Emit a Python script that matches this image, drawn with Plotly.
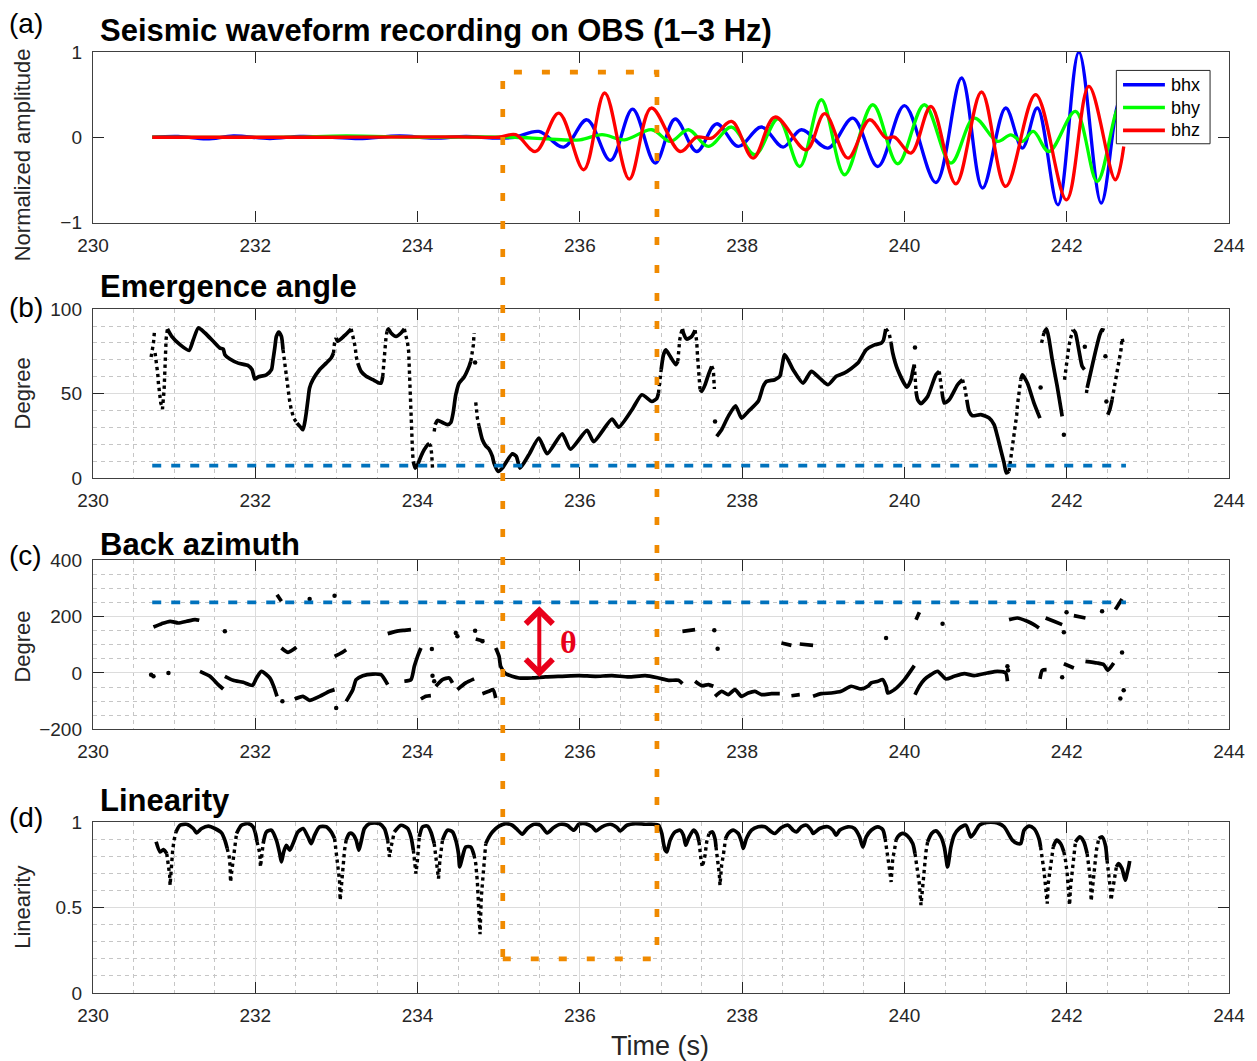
import plotly.graph_objects as go

# ---------------- data ----------------
# panel (a) waveforms: extrema (time s, normalized amplitude)
bhx_t = [230.73, 231.05, 231.40, 231.73, 232.18, 232.55, 232.95, 233.28, 233.78, 234.20, 234.60, 234.95,
         235.20, 235.495, 235.802, 236.088, 236.376, 236.650, 236.929, 237.174, 237.440, 237.686, 237.952,
         238.238, 238.505, 238.730, 239.058, 239.365, 239.672, 240.000, 240.388, 240.704, 240.962,
         241.248, 241.453, 241.638, 241.892, 242.150, 242.424, 242.612, 242.70]
bhx_v = [0.0, 0.01, -0.02, 0.015, -0.015, 0.01, 0.0, -0.015, 0.015, -0.01, 0.01, -0.01,
         0.0, 0.068, -0.115, 0.205, -0.272, 0.331, -0.303, 0.214, -0.167, 0.158, -0.108,
         0.120, -0.115, 0.088, -0.127, 0.225, -0.343, 0.370, -0.531, 0.695, -0.596,
         0.343, -0.127, 0.343, -0.792, 1.0, -0.772, 0.323, 0.6]

bhy_t = [230.73, 232.40, 233.12, 234.00, 234.80, 235.20, 235.60, 236.00, 236.273, 236.55, 236.887,
         237.113, 237.338, 237.584, 237.870, 238.157, 238.444, 238.710, 238.976, 239.263, 239.610,
         239.918, 240.246, 240.573, 240.860, 241.146, 241.310, 241.453, 241.588, 241.781, 242.108,
         242.375, 242.612, 242.70]
bhy_v = [0.0, 0.0, 0.015, 0.0, 0.005, 0.0, -0.02, -0.03, 0.03, -0.03, 0.088,
         -0.049, 0.088, -0.108, 0.120, -0.205, 0.217, -0.343, 0.440, -0.440, 0.381,
         -0.311, 0.381, -0.303, 0.225, -0.049, 0.029, -0.049, 0.068, -0.167, 0.303,
         -0.519, 0.303, 0.45]

bhz_t = [230.73, 233.00, 234.50, 235.00, 235.209, 235.455, 235.741, 236.048, 236.306, 236.609, 236.880,
         237.236, 237.440, 237.624, 237.870, 238.136, 238.403, 238.791, 239.017, 239.303, 239.570,
         239.774, 239.877, 240.081, 240.327, 240.634, 240.950, 241.248, 241.617, 241.998, 242.273,
         242.600, 242.703]
bhz_v = [0.0, 0.0, 0.005, 0.0, 0.03, -0.167, 0.284, -0.381, 0.519, -0.491, 0.343,
         -0.167, 0.002, -0.01, 0.185, -0.244, 0.237, -0.147, 0.276, -0.244, 0.205,
         -0.009, 0.002, -0.185, 0.361, -0.546, 0.531, -0.577, 0.499, -0.734, 0.596,
         -0.499, -0.108]

# panel (b) emergence angle (time s, degree)
ea_solid = [
    [(230.917, 88.3), (230.970, 83.9), (231.072, 79.0), (231.183, 75.6), (231.236, 81.9), (231.298, 88.9),
     (231.380, 85.9), (231.482, 81.0), (231.564, 77.0), (231.605, 76.4), (231.625, 73.1), (231.687, 70.5),
     (231.789, 68.1), (231.912, 66.6), (231.961, 64.2), (231.994, 58.7), (232.035, 59.9), (232.137, 61.2),
     (232.199, 64.2), (232.219, 70.1), (232.240, 77.0), (232.260, 83.9), (232.289, 86.5), (232.322, 83.9),
     (232.342, 76.0)],
    [(232.514, 32.6), (232.567, 29.7), (232.588, 28.7), (232.608, 32.6), (232.628, 38.6), (232.649, 46.4),
     (232.669, 53.4), (232.710, 58.3), (232.792, 64.2), (232.874, 68.1), (232.935, 71.1), (232.964, 74.1)],
    [(232.997, 83.0), (233.017, 81.0), (233.099, 84.3), (233.181, 88.3)],
    [(233.263, 68.1), (233.304, 63.2), (233.366, 60.3), (233.448, 58.3), (233.530, 56.3), (233.551, 56.3),
     (233.571, 60.3)],
    [(233.624, 86.9), (233.640, 88.3), (233.673, 85.9), (233.735, 83.9), (233.796, 85.9), (233.837, 88.3)],
    [(233.947, 10.0), (233.971, 6.0), (234.000, 8.0), (234.041, 12.9), (234.082, 16.9), (234.123, 19.8),
     (234.144, 20.4)],
    [(234.217, 31.7), (234.246, 34.2), (234.307, 33.0), (234.369, 31.7), (234.410, 33.0), (234.438, 38.6),
     (234.471, 49.4), (234.512, 56.3), (234.574, 59.9), (234.635, 66.2), (234.656, 69.1)],
    [(234.758, 30.7), (234.799, 22.8), (234.840, 19.2), (234.881, 17.2), (234.922, 12.9), (234.942, 9.0),
     (234.995, 4.0), (235.045, 6.0), (235.168, 14.5), (235.217, 12.9), (235.262, 6.0), (235.372, 13.9),
     (235.495, 23.8), (235.597, 14.5), (235.782, 26.3), (235.884, 17.2), (236.089, 28.3), (236.171, 21.7),
     (236.396, 35.0), (236.478, 30.2), (236.642, 40.5), (236.765, 49.4), (236.887, 45.4), (236.949, 47.3),
     (236.969, 50.4)],
    [(237.002, 64.2), (237.031, 73.1), (237.060, 76.0), (237.113, 72.1), (237.182, 67.2), (237.207, 69.1)],
    [(237.264, 88.3), (237.276, 85.9), (237.317, 82.3), (237.379, 83.9), (237.420, 87.5)],
    [(237.481, 52.4), (237.502, 51.4), (237.543, 55.3), (237.584, 61.2), (237.625, 66.2)],
    [(237.686, 24.8), (237.747, 28.7), (237.829, 36.6), (237.919, 42.9), (237.993, 35.6), (238.075, 39.5),
     (238.198, 45.5), (238.259, 54.3), (238.300, 57.3), (238.403, 58.3), (238.464, 60.3), (238.525, 73.1),
     (238.628, 64.2), (238.750, 56.3), (238.853, 63.2), (238.955, 59.2), (239.058, 55.3), (239.160, 60.3),
     (239.262, 62.3), (239.426, 68.1), (239.529, 76.0), (239.631, 78.9), (239.713, 79.9), (239.740, 81.5),
     (239.770, 88.3)],
    [(239.836, 80.0), (239.856, 74.1), (239.917, 64.2), (240.032, 53.9), (240.081, 58.3), (240.102, 63.2),
     (240.122, 67.2)],
    [(240.143, 51.4), (240.163, 46.4), (240.204, 44.1), (240.286, 48.4), (240.388, 61.2), (240.429, 63.2)],
    [(240.462, 51.4), (240.491, 44.5), (240.552, 46.4), (240.655, 55.3), (240.716, 58.3)],
    [(240.769, 46.4), (240.798, 39.5), (240.839, 37.0), (240.941, 37.6), (241.044, 35.6), (241.105, 31.7),
     (241.146, 24.8), (241.187, 16.9), (241.228, 9.0), (241.257, 3.1), (241.289, 4.1)],
    [(241.433, 58.3), (241.453, 61.2), (241.515, 56.3), (241.597, 44.5), (241.670, 35.6)],
    [(241.719, 85.9), (241.752, 88.3), (241.780, 82.8), (241.822, 70.1), (241.883, 54.3), (241.924, 42.5),
     (241.944, 36.6)],
    [(242.079, 87.8), (242.108, 85.9), (242.149, 76.0), (242.190, 66.2), (242.219, 64.2)],
    [(242.252, 53.4), (242.293, 62.1), (242.354, 74.9), (242.407, 84.8), (242.436, 87.8), (242.465, 87.4)],
    [(242.506, 37.6), (242.530, 40.5), (242.559, 46.4)],
]
ea_dotted = [
    [(230.716, 71.7), (230.728, 75.0), (230.745, 80.0), (230.757, 86.5)],
    [(230.765, 74.1), (230.786, 67.2), (230.798, 61.8), (230.806, 56.3), (230.814, 52.0), (230.827, 47.4),
     (230.835, 44.5), (230.847, 42.9), (230.856, 40.9), (230.876, 52.0), (230.888, 69.5), (230.901, 82.3),
     (230.917, 88.3)],
    [(232.342, 76.0), (232.362, 68.1), (232.383, 61.2), (232.395, 56.3), (232.411, 50.4), (232.424, 45.5),
     (232.444, 40.5), (232.473, 35.6), (232.514, 32.6)],
    [(232.964, 74.1), (232.976, 80.0), (232.997, 83.0)],
    [(233.181, 88.3), (233.202, 84.9), (233.222, 80.0), (233.235, 76.0), (233.243, 72.1), (233.263, 68.1)],
    [(233.571, 60.3), (233.579, 66.2), (233.591, 73.1), (233.603, 79.0), (233.612, 83.9), (233.624, 86.9)],
    [(233.837, 88.3), (233.857, 84.9), (233.877, 80.0), (233.890, 75.0), (233.898, 65.2), (233.906, 48.4),
     (233.918, 31.7), (233.931, 20.8), (233.939, 14.5), (233.947, 10.0)],
    [(234.144, 20.4), (234.164, 18.8), (234.176, 12.9), (234.184, 6.0)],
    [(234.205, 27.7), (234.217, 31.7)],
    [(234.656, 69.1), (234.676, 74.1), (234.688, 79.0), (234.697, 85.9)],
    [(234.717, 44.9), (234.725, 40.5), (234.737, 35.6), (234.758, 30.7)],
    [(236.969, 50.4), (236.982, 55.3), (236.990, 59.2), (237.002, 64.2)],
    [(237.207, 69.1), (237.215, 74.1), (237.231, 81.9), (237.248, 85.9), (237.264, 88.3)],
    [(237.420, 87.5), (237.440, 80.9), (237.449, 73.1), (237.461, 64.2), (237.469, 58.3), (237.481, 52.4)],
    [(237.625, 66.2), (237.645, 64.2), (237.658, 52.8)],
    [(239.770, 88.3), (239.795, 86.9), (239.815, 84.9), (239.836, 80.0)],
    [(240.122, 67.2), (240.143, 51.4)],
    [(240.429, 63.2), (240.450, 57.3), (240.462, 51.4)],
    [(240.716, 58.3), (240.745, 53.4), (240.769, 46.4)],
    [(241.289, 4.1), (241.310, 10.9), (241.330, 18.8), (241.351, 25.8), (241.371, 32.7), (241.384, 37.6),
     (241.392, 43.0), (241.404, 48.4), (241.420, 53.4), (241.433, 58.3)],
    [(241.690, 80.0), (241.703, 83.9), (241.719, 85.9)],
    [(241.973, 58.3), (241.985, 63.2), (242.006, 71.0), (242.026, 77.9), (242.047, 82.8), (242.079, 87.8)],
    [(242.243, 50.4), (242.252, 53.4)],
    [(242.559, 46.4), (242.587, 54.3), (242.612, 60.2), (242.632, 65.1), (242.653, 70.4), (242.669, 75.9),
     (242.682, 82.8), (242.694, 80.9), (242.702, 78.9)],
]
ea_dots = [(234.709, 68.5), (237.666, 33.6), (240.130, 77.4), (241.678, 53.7), (241.965, 25.8),
           (242.223, 77.8), (242.477, 72.1), (242.489, 45.4)]

# panel (c) back azimuth (time s, degree)
baz_solid = [
    [(230.745, 162.8), (230.847, 174.7), (230.950, 183.0), (231.052, 177.0), (231.154, 183.0), (231.257, 189.0),
     (231.310, 186.5)],
    [(231.318, 5.8), (231.441, -11.7), (231.543, -41.4), (231.605, -56.8)],
    [(231.625, -11.8), (231.728, -26.0), (231.851, -33.2), (231.966, -43.8), (232.015, -17.8), (232.076, 5.8),
     (232.179, -17.8), (232.227, -47.4), (232.268, -82.8)],
    [(232.268, 277.4), (232.322, 253.8)],
    [(232.322, 88.4), (232.404, 73.0), (232.507, 90.7)],
    [(232.486, -92.2), (232.588, -82.8), (232.670, -97.0), (232.793, -82.8), (232.916, -65.0), (232.977, -59.0)],
    [(232.977, 58.9), (233.058, 70.7), (233.120, 82.5)],
    [(233.120, -100.6), (233.202, -59.3), (233.243, -23.9), (233.325, -9.7), (233.448, -3.8), (233.550, -6.2),
     (233.632, -41.6)],
    [(233.632, 139.3), (233.735, 147.5), (233.837, 151.0), (233.919, 153.4)],
    [(233.837, -29.4), (233.919, -23.5), (233.960, 23.5), (234.000, 58.9), (234.041, 88.4)],
    [(234.041, -92.2), (234.103, -82.8), (234.164, -80.4)],
    [(234.225, -47.1), (234.307, -23.5), (234.389, -17.6), (234.430, -35.3)],
    [(234.491, -59.0), (234.594, -35.3), (234.697, -21.1)],
    [(234.717, 120.4), (234.819, 112.0)],
    [(234.799, -73.4), (234.881, -65.0), (234.930, -59.0), (234.963, -88.6)],
    [(234.963, 88.4), (235.004, 59.0), (235.024, 23.5), (235.086, -2.5), (235.249, -17.7), (235.413, -17.7),
     (235.577, -14.1), (235.782, -11.8), (235.987, -9.5), (236.191, -11.8), (236.396, -9.5), (236.601, -14.1),
     (236.806, -9.5), (236.969, -17.7), (237.092, -26.0), (237.215, -26.0), (237.264, -37.7)],
    [(237.264, 147.5), (237.420, 153.4)],
    [(237.420, -29.4), (237.502, -44.8), (237.584, -41.3), (237.645, -47.1)],
    [(237.666, -82.8), (237.748, -65.0), (237.829, -76.8), (237.911, -59.0), (237.993, -82.8), (238.075, -71.0),
     (238.157, -65.0), (238.239, -76.8), (238.362, -73.3), (238.464, -73.3)],
    [(238.484, 106.0), (238.607, 97.8)],
    [(238.607, -80.6), (238.710, -77.0)],
    [(238.710, 102.6), (238.874, 97.8)],
    [(238.874, -82.8), (238.976, -73.4), (239.099, -71.0), (239.221, -65.0), (239.344, -47.1), (239.467, -56.6),
     (239.549, -47.1), (239.590, -35.3), (239.672, -29.4), (239.733, -23.5), (239.774, -47.1), (239.795, -70.8),
     (239.877, -59.0), (240.000, -23.5), (240.122, 26.0)],
    [(240.130, -77.0), (240.184, -47.1), (240.245, -23.5), (240.327, -5.9), (240.409, 5.9), (240.511, -21.2),
     (240.614, -11.8), (240.737, -2.4), (240.859, -9.5), (241.023, 0.0), (241.146, 5.9), (241.248, 0.0),
     (241.269, -29.4)],
    [(240.143, 188.8), (240.184, 214.8)],
    [(241.289, 188.8), (241.392, 194.7), (241.514, 182.9), (241.596, 171.1), (241.658, 159.3)],
    [(241.740, 194.7), (241.842, 182.9), (241.944, 171.1)],
    [(242.088, 203.0), (242.231, 194.7)],
    [(242.600, 224.5), (242.682, 262.2)],
    [(241.670, -21.2), (241.699, 9.5), (241.752, 11.8)],
    [(241.965, 32.8), (242.088, 17.5)],
    [(242.231, 41.2), (242.375, 35.3), (242.457, 29.4), (242.506, 9.5), (242.579, 35.3)],
]
baz_dots = [(231.625, 147.5), (230.716, -6.0), (230.745, -12.0), (230.930, 0.0), (232.334, -100.6),
            (232.670, 262.0), (232.977, 273.8), (232.997, -124.1), (234.176, 84.9), (234.184, -9.5),
            (234.205, -29.4), (234.471, 141.6), (234.491, 129.8), (234.709, 149.9), (234.799, 111.9),
            (237.657, 151.0), (237.698, 86.0), (239.774, 123.9), (240.470, 174.7), (241.269, 23.5),
            (241.277, 9.5), (241.965, 144.0), (241.998, 214.8), (242.436, 218.6), (241.944, -15.3),
            (242.682, 72.8), (242.702, -61.3), (242.661, -90.8)]

# panel (d) linearity (time s, linearity)
lin_solid = [
    [(230.778, 0.885), (230.827, 0.826), (230.868, 0.840), (230.909, 0.816)],
    [(231.023, 0.943), (231.072, 0.982), (231.154, 0.988), (231.236, 0.963), (231.277, 0.9375), (231.339, 0.963),
     (231.421, 0.977), (231.502, 0.963), (231.584, 0.9375), (231.625, 0.895), (231.654, 0.846)],
    [(231.769, 0.934), (231.830, 0.982), (231.912, 0.992), (231.973, 0.973), (232.002, 0.934), (232.022, 0.885)],
    [(232.097, 0.875), (232.137, 0.943), (232.199, 0.953), (232.260, 0.895), (232.301, 0.816), (232.322, 0.768),
     (232.350, 0.826), (232.383, 0.865), (232.424, 0.836), (232.465, 0.875), (232.526, 0.943), (232.588, 0.963),
     (232.649, 0.914), (232.690, 0.875), (232.731, 0.924), (232.792, 0.973), (232.874, 0.973), (232.935, 0.943),
     (232.977, 0.904)],
    [(233.120, 0.895), (233.161, 0.934), (233.202, 0.930), (233.243, 0.895), (233.276, 0.836), (233.304, 0.885),
     (233.345, 0.963), (233.407, 0.992), (233.468, 0.996), (233.530, 0.992), (233.591, 0.963), (233.632, 0.895)],
    [(233.714, 0.943), (233.796, 0.982), (233.878, 0.963), (233.919, 0.914), (233.948, 0.836)],
    [(234.021, 0.914), (234.062, 0.973), (234.123, 0.977), (234.164, 0.943), (234.205, 0.875)],
    [(234.307, 0.895), (234.369, 0.953), (234.430, 0.943), (234.471, 0.895), (234.504, 0.816), (234.520, 0.738),
     (234.553, 0.797), (234.594, 0.855), (234.655, 0.855), (234.696, 0.807)],
    [(234.840, 0.875), (234.881, 0.914), (234.922, 0.943), (235.004, 0.977), (235.086, 0.992), (235.167, 0.982),
     (235.229, 0.957), (235.290, 0.930), (235.352, 0.963), (235.434, 0.988), (235.516, 0.982), (235.597, 0.9375),
     (235.679, 0.969), (235.761, 0.988), (235.843, 0.982), (235.925, 0.953), (235.987, 0.988), (236.068, 0.992),
     (236.150, 0.973), (236.199, 0.949), (236.273, 0.973), (236.376, 0.988), (236.457, 0.969), (236.498, 0.949),
     (236.580, 0.982), (236.683, 0.992), (236.805, 0.988), (236.908, 0.988), (236.969, 0.982), (237.010, 0.934),
     (237.031, 0.875), (237.051, 0.836), (237.072, 0.826), (237.113, 0.895), (237.174, 0.943), (237.235, 0.953),
     (237.276, 0.924), (237.305, 0.865), (237.338, 0.904), (237.399, 0.953), (237.440, 0.934), (237.469, 0.885)],
    [(237.592, 0.934), (237.633, 0.943), (237.665, 0.904), (237.678, 0.855)],
    [(237.796, 0.904), (237.829, 0.934), (237.891, 0.953), (237.952, 0.934), (237.993, 0.885), (238.014, 0.846),
     (238.054, 0.904), (238.116, 0.953), (238.198, 0.973), (238.280, 0.973), (238.362, 0.943), (238.403, 0.934),
     (238.485, 0.969), (238.566, 0.982), (238.628, 0.953), (238.669, 0.943), (238.730, 0.973), (238.791, 0.982),
     (238.853, 0.953), (238.873, 0.934), (238.955, 0.963), (239.058, 0.973), (239.119, 0.953), (239.160, 0.924),
     (239.201, 0.953), (239.304, 0.973), (239.385, 0.963), (239.447, 0.914), (239.488, 0.855), (239.529, 0.914),
     (239.590, 0.953), (239.672, 0.973), (239.733, 0.957), (239.762, 0.904)],
    [(239.897, 0.895), (239.917, 0.914), (239.979, 0.934), (240.040, 0.918), (240.102, 0.875), (240.130, 0.816)],
    [(240.286, 0.885), (240.335, 0.934), (240.388, 0.949), (240.450, 0.914), (240.491, 0.855), (240.511, 0.797),
     (240.532, 0.738), (240.573, 0.855), (240.614, 0.924), (240.675, 0.963), (240.757, 0.982), (240.818, 0.914),
     (240.859, 0.934), (240.921, 0.982), (240.982, 0.996), (241.064, 1.0), (241.146, 0.996), (241.228, 0.973),
     (241.330, 0.895), (241.392, 0.875), (241.433, 0.875), (241.474, 0.953), (241.535, 0.977), (241.596, 0.963),
     (241.658, 0.904), (241.678, 0.855)],
    [(241.834, 0.855), (241.875, 0.895), (241.924, 0.875), (241.965, 0.826)],
    [(242.108, 0.885), (242.162, 0.914), (242.211, 0.885), (242.252, 0.816)],
    [(242.395, 0.904), (242.436, 0.914), (242.477, 0.865), (242.497, 0.777)],
    [(242.612, 0.738), (242.640, 0.758), (242.681, 0.729), (242.722, 0.660), (242.743, 0.699), (242.763, 0.738),
     (242.776, 0.773)],
]
lin_dotted = [
    [(230.909, 0.816), (230.929, 0.758), (230.945, 0.689), (230.950, 0.631), (230.960, 0.700), (230.970, 0.768),
     (230.982, 0.836), (230.999, 0.895), (231.023, 0.943)],
    [(231.654, 0.846), (231.679, 0.797), (231.690, 0.738), (231.695, 0.650), (231.707, 0.700), (231.728, 0.797),
     (231.748, 0.855), (231.769, 0.934)],
    [(232.022, 0.885), (232.035, 0.855), (232.056, 0.816), (232.064, 0.738), (232.080, 0.800), (232.097, 0.875)],
    [(232.977, 0.904), (232.997, 0.816), (233.017, 0.738), (233.038, 0.660), (233.046, 0.543), (233.059, 0.621),
     (233.079, 0.729), (233.100, 0.836), (233.120, 0.895)],
    [(233.632, 0.895), (233.653, 0.797), (233.673, 0.855), (233.714, 0.943)],
    [(233.948, 0.836), (233.972, 0.738), (233.980, 0.699), (234.000, 0.787), (234.021, 0.914)],
    [(234.205, 0.875), (234.226, 0.797), (234.246, 0.719), (234.258, 0.670), (234.275, 0.777), (234.307, 0.895)],
    [(234.696, 0.807), (234.717, 0.758), (234.737, 0.650), (234.749, 0.5625), (234.760, 0.465), (234.770, 0.344),
     (234.785, 0.560), (234.791, 0.602), (234.807, 0.699), (234.819, 0.777), (234.840, 0.875)],
    [(237.469, 0.885), (237.481, 0.826), (237.494, 0.777), (237.510, 0.738), (237.543, 0.807), (237.563, 0.885),
     (237.592, 0.934)],
    [(237.678, 0.855), (237.690, 0.807), (237.706, 0.758), (237.720, 0.689), (237.727, 0.631), (237.747, 0.748),
     (237.768, 0.807), (237.780, 0.855), (237.796, 0.904)],
    [(239.762, 0.904), (239.774, 0.855), (239.795, 0.797), (239.815, 0.729), (239.836, 0.650), (239.856, 0.787),
     (239.877, 0.836), (239.897, 0.895)],
    [(240.130, 0.816), (240.143, 0.777), (240.163, 0.709), (240.184, 0.641), (240.204, 0.514), (240.225, 0.641),
     (240.245, 0.748), (240.265, 0.826), (240.286, 0.885)],
    [(241.678, 0.855), (241.699, 0.797), (241.719, 0.719), (241.740, 0.621), (241.760, 0.523), (241.772, 0.641),
     (241.793, 0.719), (241.809, 0.797), (241.834, 0.855)],
    [(241.965, 0.826), (241.985, 0.777), (242.006, 0.699), (242.026, 0.602), (242.035, 0.514), (242.047, 0.621),
     (242.067, 0.719), (242.088, 0.816), (242.108, 0.885)],
    [(242.252, 0.816), (242.272, 0.738), (242.293, 0.660), (242.301, 0.539), (242.325, 0.660), (242.342, 0.758),
     (242.366, 0.836), (242.395, 0.904)],
    [(242.497, 0.777), (242.518, 0.699), (242.538, 0.611), (242.546, 0.543), (242.571, 0.621), (242.587, 0.680),
     (242.612, 0.738)],
]

# reference levels (blue dashed) and window
ref_t = [230.73, 242.73]
ref_ea = 7.5
ref_baz = 250.0
theta_t = 235.5
theta_top, theta_bottom = 242.0, -14.0
box_t0, box_t1 = 235.05, 236.95
box_top_amp = 0.765     # in panel (a) units
box_bottom_lin = 0.2    # in panel (d) units

x_ticks = [230, 232, 234, 236, 238, 240, 242, 244]
legend_names = ["bhx", "bhy", "bhz"]
legend_colors = ["#0000FF", "#00FF00", "#FF0000"]

# ---------------- helpers ----------------
def flatten(segs):
    xs, ys = [], []
    for s in segs:
        for t, v in s:
            xs.append(t)
            ys.append(v)
        xs.append(None)
        ys.append(None)
    return xs, ys

W, H = 1257, 1061
ML, MR, MT, MB = 92.7, 24.7, 52.3, 68.3
PH = H - MT - MB

def py(p):  # pixel row -> paper y (for text placement)
    return (H - MB - p) / PH

def px(p):
    return (p - ML) / (W - ML - MR)

dom = {
    1: [py(222.7), py(52.3)],
    2: [py(478.3), py(309.3)],
    3: [py(729.3), py(560.0)],
    4: [py(992.7), py(822.0)],
}
rng = {1: [-1, 1], 2: [0, 100], 3: [-200, 400], 4: [0, 1]}

def to_paper(k, v):
    lo, hi = rng[k]
    d0, d1 = dom[k]
    return d0 + (v - lo) / (hi - lo) * (d1 - d0)

FONT = "Liberation Sans"
TXT = "#262626"
BLACK = "black"

fig = go.Figure()

# panel a
for name, t, v, c in [("bhx", bhx_t, bhx_v, legend_colors[0]), ("bhy", bhy_t, bhy_v, legend_colors[1]),
                      ("bhz", bhz_t, bhz_v, legend_colors[2])]:
    fig.add_trace(go.Scatter(x=t, y=v, mode="lines", name=name, xaxis="x", yaxis="y", showlegend=False,
                             line=dict(color=c, width=3.3, shape="spline", smoothing=1.0)))

def add_panel(k, solid, dotted, dots, smooth):
    xa = "x" if k == 1 else f"x{k}"
    ya = "y" if k == 1 else f"y{k}"
    if solid:
        sx, sy = flatten(solid)
        fig.add_trace(go.Scatter(x=sx, y=sy, mode="lines", xaxis=xa, yaxis=ya, showlegend=False,
                                 line=dict(color=BLACK, width=3.7, shape="spline", smoothing=smooth)))
    if dotted:
        dx, dy = flatten(dotted)
        fig.add_trace(go.Scatter(x=dx, y=dy, mode="lines", xaxis=xa, yaxis=ya, showlegend=False,
                                 line=dict(color=BLACK, width=3.4, dash="3.4px,3.6px")))
    if dots:
        fig.add_trace(go.Scatter(x=[d[0] for d in dots], y=[d[1] for d in dots], mode="markers",
                                 xaxis=xa, yaxis=ya, showlegend=False,
                                 marker=dict(color=BLACK, size=4.5, line=dict(width=0))))

add_panel(2, ea_solid, ea_dotted, ea_dots, 0.6)
add_panel(3, baz_solid, None, baz_dots, 0.6)
add_panel(4, lin_solid, lin_dotted, None, 0.7)

# blue dashed reference lines
fig.add_trace(go.Scatter(x=ref_t, y=[ref_ea, ref_ea], mode="lines", xaxis="x2", yaxis="y2", showlegend=False,
                         line=dict(color="#0072BD", width=3.6, dash="9px,10px")))
fig.add_trace(go.Scatter(x=ref_t, y=[ref_baz, ref_baz], mode="lines", xaxis="x3", yaxis="y3", showlegend=False,
                         line=dict(color="#0072BD", width=3.6, dash="9px,10px")))

# ---------------- axes ----------------
TICKFONT = dict(family=FONT, size=19, color=TXT)

def xaxis_cfg(k):
    cfg = dict(domain=[0, 1], range=[230, 244], tickvals=x_ticks, ticks="inside", ticklen=11,
               tickcolor="#262626", tickwidth=1.2, showline=True, linecolor="#404040", linewidth=1.4,
               mirror="ticks", zeroline=False, tickfont=TICKFONT,
               ticklabelstandoff=5, anchor="y" if k == 1 else f"y{k}")
    if k == 1:
        cfg["showgrid"] = False
    else:
        cfg.update(showgrid=True, gridcolor="#dcdcdc", gridwidth=1.3,
                   minor=dict(dtick=0.5, showgrid=True, gridcolor="#c6c6c6", gridwidth=1, griddash="4px,4px",
                              ticks=""))
    return cfg

def yaxis_cfg(k, tickvals, ticktext, minor_dtick):
    cfg = dict(domain=dom[k], range=rng[k], tickvals=tickvals, ticktext=ticktext, ticks="inside", ticklen=11,
               tickcolor="#262626", tickwidth=1.2, showline=True, linecolor="#404040", linewidth=1.4,
               mirror="ticks", zeroline=False, tickfont=TICKFONT,
               ticklabelstandoff=6, anchor="x" if k == 1 else f"x{k}")
    if k == 1:
        cfg["showgrid"] = False
    else:
        cfg.update(showgrid=True, gridcolor="#dcdcdc", gridwidth=1.3,
                   minor=dict(dtick=minor_dtick, showgrid=True, gridcolor="#c6c6c6", gridwidth=1,
                              griddash="4px,4px", ticks=""))
    return cfg

fig.update_layout(
    xaxis=xaxis_cfg(1), xaxis2=xaxis_cfg(2), xaxis3=xaxis_cfg(3), xaxis4=xaxis_cfg(4),
    yaxis=yaxis_cfg(1, [-1, 0, 1], ["\u22121", "0", "1"], None),
    yaxis2=yaxis_cfg(2, [0, 50, 100], ["0", "50", "100"], 10),
    yaxis3=yaxis_cfg(3, [-200, 0, 200, 400], ["\u2212200", "0", "200", "400"], 50),
    yaxis4=yaxis_cfg(4, [0, 0.5, 1], ["0", "0.5", "1"], 0.1),
)

# ---------------- texts ----------------
ann = []
titles = [("Seismic waveform recording on OBS (1\u20133 Hz)", 31), ("Emergence angle", 287),
          ("Back azimuth", 544), ("Linearity", 800)]
for txt, yy in titles:
    ann.append(dict(text=f"<b>{txt}</b>", xref="paper", yref="paper", x=px(98), y=py(yy), xanchor="left",
                    yanchor="middle", showarrow=False, font=dict(family=FONT, size=31, color="black")))
for lab, yy in [("(a)", 24), ("(b)", 308), ("(c)", 555), ("(d)", 817)]:
    ann.append(dict(text=lab, xref="paper", yref="paper", x=px(6), y=py(yy), xanchor="left", yanchor="middle",
                    showarrow=False, font=dict(family=FONT, size=28, color="black")))
for lab, yy in [("Normalized amplitude", 155), ("Degree", 394), ("Degree", 647), ("Linearity", 907)]:
    ann.append(dict(text=lab, xref="paper", yref="paper", x=px(22), y=py(yy), xanchor="center",
                    yanchor="middle", textangle=-90, showarrow=False,
                    font=dict(family=FONT, size=22, color=TXT)))
ann.append(dict(text="Time (s)", xref="paper", yref="paper", x=px(661), y=py(1046), xanchor="center",
                yanchor="middle", showarrow=False, font=dict(family=FONT, size=27, color=TXT)))
# red double arrow + theta
ann.append(dict(x=theta_t, y=theta_bottom, ax=theta_t, ay=theta_top, xref="x3", yref="y3", axref="x3",
                ayref="y3", text="", showarrow=True, arrowside="end+start", arrowhead=4, startarrowhead=4,
                arrowsize=1.3, startarrowsize=1.3, arrowwidth=4, arrowcolor="#E8001A", standoff=0,
                startstandoff=0))
ann.append(dict(x=235.86, y=108, xref="x3", yref="y3", text="<b>\u03b8</b>", showarrow=False,
                xanchor="center", yanchor="middle",
                font=dict(family="Liberation Serif", size=32, color="#E8001A")))

# manual legend (box, line samples, labels) in panel (a)
shapes = [dict(type="rect", xref="paper", yref="paper", x0=px(1119.3), x1=px(1213.3), y0=py(144), y1=py(70.7),
               fillcolor="white", line=dict(color="#262626", width=1), layer="above")]
for i, (nm, col) in enumerate(zip(legend_names, legend_colors)):
    yy = 85 + i * 22.8
    shapes.append(dict(type="line", xref="paper", yref="paper", x0=px(1126), x1=px(1168), y0=py(yy), y1=py(yy),
                       line=dict(color=col, width=3.6), layer="above"))
    ann.append(dict(text=nm, xref="paper", yref="paper", x=px(1172.5), y=py(yy), xanchor="left",
                    yanchor="middle", showarrow=False, font=dict(family=FONT, size=18, color="black")))

# orange dashed window spanning all panels
shapes.append(dict(type="rect", xref="x", yref="paper", x0=box_t0, x1=box_t1,
                   y0=to_paper(4, box_bottom_lin), y1=to_paper(1, box_top_amp),
                   line=dict(color="#F08A00", width=4.7, dash="8px,20px"), layer="above"))

fig.update_layout(annotations=ann, shapes=shapes)

fig.update_layout(
    width=W, height=H, autosize=False,
    margin=dict(l=ML, r=MR, t=MT, b=MB, pad=0),
    paper_bgcolor="white", plot_bgcolor="white",
    showlegend=False,
    font=dict(family=FONT),
)

fig.write_html("out.html")
